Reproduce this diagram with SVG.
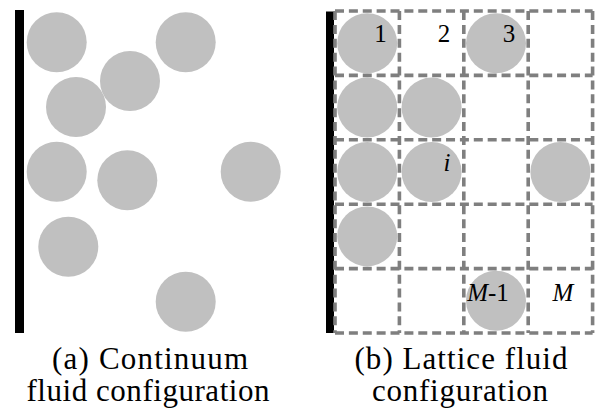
<svg xmlns="http://www.w3.org/2000/svg" width="595" height="410" viewBox="0 0 595 410">
<style>
.p{fill:#c0c0c0}
.grid line{stroke:#7f7f7f;stroke-width:3.6;stroke-dasharray:9 4.88}
.wall{fill:#000}
.lbl{font-size:25px;fill:#000;text-anchor:middle}
.it{font-style:italic}
.cap{font-size:31px;fill:#000;text-anchor:middle}
</style>
<rect width="595" height="410" fill="#fff"/>
<g id="continuum">
<rect class="wall" x="15" y="10" width="9" height="323"/>
<circle class="p" cx="56.7" cy="42.3" r="30"/>
<circle class="p" cx="185.7" cy="42.3" r="30"/>
<circle class="p" cx="130" cy="81" r="30"/>
<circle class="p" cx="76" cy="107" r="30"/>
<circle class="p" cx="56.7" cy="171.7" r="30"/>
<circle class="p" cx="127.3" cy="180.3" r="30"/>
<circle class="p" cx="250.7" cy="171.7" r="30"/>
<circle class="p" cx="68.3" cy="246.7" r="30"/>
<circle class="p" cx="185.7" cy="301.7" r="30"/>
</g>
<g id="lattice">
<rect class="wall" x="326" y="11.5" width="8" height="321.5"/>
<g id="particles">
<circle class="p" cx="367.2" cy="43.2" r="30"/>
<circle class="p" cx="496" cy="43.2" r="30"/>
<circle class="p" cx="367.2" cy="107.6" r="30"/>
<circle class="p" cx="431.6" cy="107.6" r="30"/>
<circle class="p" cx="367.2" cy="172" r="30"/>
<circle class="p" cx="431.6" cy="172" r="30"/>
<circle class="p" cx="560.4" cy="172" r="30"/>
<circle class="p" cx="367.2" cy="236.4" r="30"/>
<circle class="p" cx="496" cy="300.8" r="30"/>
</g>
<g id="grid" class="grid">
<line x1="335" y1="11" x2="592.6" y2="11"/>
<line x1="335" y1="75.4" x2="592.6" y2="75.4"/>
<line x1="335" y1="139.8" x2="592.6" y2="139.8"/>
<line x1="335" y1="204.2" x2="592.6" y2="204.2"/>
<line x1="335" y1="268.6" x2="592.6" y2="268.6"/>
<line x1="335" y1="333" x2="592.6" y2="333"/>
<line x1="335" y1="11" x2="335" y2="333"/>
<line x1="399.4" y1="11" x2="399.4" y2="333"/>
<line x1="463.8" y1="11" x2="463.8" y2="333"/>
<line x1="528.2" y1="11" x2="528.2" y2="333"/>
<line x1="592.6" y1="11" x2="592.6" y2="333"/>
</g>
<g id="labels" font-family="'Times New Roman', 'Liberation Serif', 'DejaVu Serif', serif">
<text class="lbl" x="380.5" y="42">1</text>
<text class="lbl" x="444" y="42">2</text>
<text class="lbl" x="509" y="42">3</text>
<text class="lbl it" x="447" y="171">i</text>
<text class="lbl" x="488" y="301"><tspan class="it">M</tspan>-1</text>
<text class="lbl it" x="563" y="301">M</text>
</g>
</g>
<g id="captions" font-family="'Times New Roman', 'Liberation Serif', 'DejaVu Serif', serif">
<text class="cap" x="150" y="369" textLength="196">(a) Continuum</text>
<text class="cap" x="148" y="401" textLength="243">fluid configuration</text>
<text class="cap" x="461" y="369" textLength="213">(b) Lattice fluid</text>
<text class="cap" x="460" y="401" textLength="176">configuration</text>
</g>
</svg>
